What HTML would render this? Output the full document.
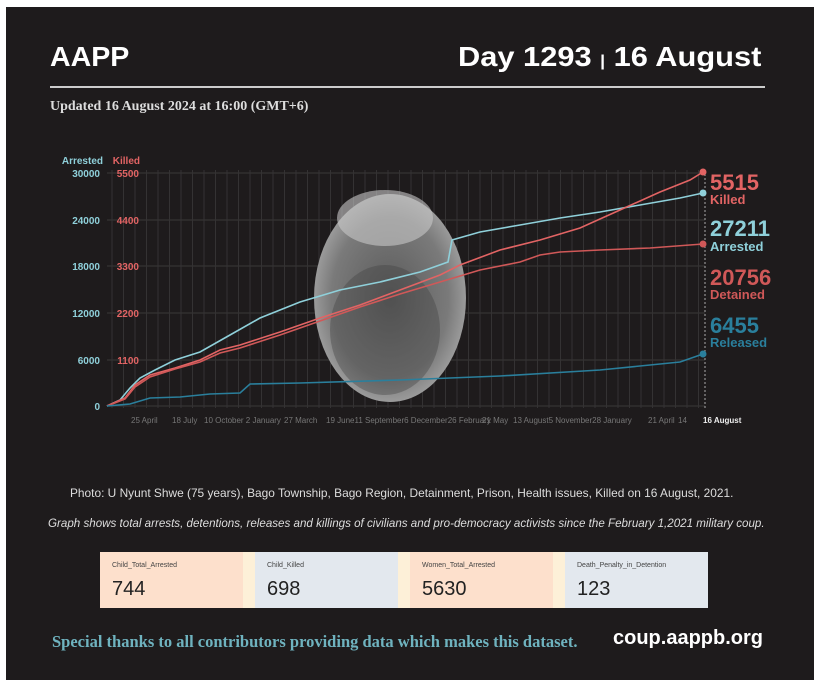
<!DOCTYPE html>
<html><head><meta charset="utf-8"><style>
*{margin:0;padding:0;box-sizing:border-box}
body{width:820px;height:687px;background:#fff;position:relative;overflow:hidden;font-family:"Liberation Sans",sans-serif}
#bg{position:absolute;left:6px;top:7px;width:808px;height:673px;background:#1e1b1c}
.t{position:absolute;white-space:nowrap}
.card{position:absolute;top:552px;height:56px}
.card .l{position:absolute;left:12px;top:10px;font-size:7px;color:#444}
.card .v{position:absolute;left:12px;top:26px;font-size:20px;color:#222}
</style></head><body>
<div id="bg"></div>
<div class="t" style="left:50px;top:41px;font-size:28px;font-weight:bold;color:#fff;transform-origin:left top;transform:scaleX(1.02)">AAPP</div>
<div class="t" style="left:458px;top:41px;font-size:28px;font-weight:bold;color:#fff;transform-origin:left top;transform:scaleX(1.1)">Day 1293 <span style="font-size:16px">|</span> 16 August</div>
<div style="position:absolute;left:50px;top:86px;width:715px;height:2px;background:#ccc"></div>
<div class="t" style="left:50px;top:99px;font-family:'Liberation Serif',serif;font-weight:bold;font-size:14px;color:#ddd">Updated 16 August 2024 at 16:00 (GMT+6)</div>
<svg style="position:absolute;left:0;top:0" width="820" height="460">
<defs><radialGradient id="g" cx="50%" cy="50%" r="55%"><stop offset="0" stop-color="#5a5a5a"/><stop offset="0.7" stop-color="#7a7a7a"/><stop offset="1" stop-color="#a8a8a8"/></radialGradient></defs>
<g stroke="#3a3839" stroke-width="1">
<line x1="107" y1="173" x2="705" y2="173"/><line x1="107" y1="220" x2="705" y2="220"/><line x1="107" y1="266" x2="705" y2="266"/><line x1="107" y1="313" x2="705" y2="313"/><line x1="107" y1="360" x2="705" y2="360"/><line x1="107" y1="406" x2="705" y2="406"/>
</g>
<g stroke="#343233" stroke-width="1" id="vg"></g>
<ellipse cx="390" cy="298" rx="76" ry="104" fill="url(#g)"/>
<ellipse cx="385" cy="218" rx="48" ry="28" fill="#c8c8c8" opacity="0.6"/>
<ellipse cx="385" cy="330" rx="55" ry="65" fill="#444" opacity="0.4"/>
<line x1="705" y1="170" x2="705" y2="408" stroke="#aaa" stroke-dasharray="2,2"/>
<g fill="none" stroke-width="1.6">
<polyline stroke="#8fd0da" points="107,406 120,400 130,388 140,378 155,370 175,360 200,352 230,335 260,318 300,302 340,290 380,282 420,272 448,262 452,240 480,232 520,225 560,218 600,212 640,205 680,198 703,193"/>
<polyline stroke="#e26464" points="107,406 125,398 135,385 150,375 175,368 200,360 220,350 240,345 280,332 320,318 360,305 400,290 440,275 460,265 500,250 540,240 580,228 620,210 660,192 690,180 703,172"/>
<polyline stroke="#d05858" points="107,406 125,399 135,387 150,377 175,369 200,362 220,353 240,348 280,335 320,321 360,307 400,294 440,282 480,270 520,262 540,255 560,252 600,250 650,248 703,244"/>
<polyline stroke="#2a7f9c" points="107,406 130,404 150,398 180,397 210,394 240,393 250,384 300,383 400,380 500,376 600,370 680,362 703,354"/>
</g>
<circle cx="703" cy="172" r="3.5" fill="#e26464"/><circle cx="703" cy="193" r="3.5" fill="#8fd0da"/><circle cx="703" cy="244" r="3.5" fill="#d05858"/><circle cx="703" cy="354" r="3.5" fill="#2a7f9c"/>
<g font-family="Liberation Sans" font-size="10" font-weight="bold" text-anchor="end">
<text x="103" y="164" fill="#8fd0da">Arrested</text><text x="140" y="164" fill="#e26464">Killed</text>
<g fill="#8fd0da"><text x="100" y="177">30000</text><text x="100" y="224">24000</text><text x="100" y="270">18000</text><text x="100" y="317">12000</text><text x="100" y="364">6000</text><text x="100" y="410">0</text></g>
<g fill="#e26464"><text x="139" y="177">5500</text><text x="139" y="224">4400</text><text x="139" y="270">3300</text><text x="139" y="317">2200</text><text x="139" y="364">1100</text></g>
</g>
<g font-family="Liberation Sans" font-size="8" fill="#777">
<text x="131" y="423">25 April</text><text x="172" y="423">18 July</text><text x="204" y="423">10 October 2 January</text><text x="284" y="423">27 March</text><text x="326" y="423">19 June11 September6 December26 February</text><text x="482" y="423">21 May</text><text x="513" y="423">13 August5 November28 January</text><text x="648" y="423">21 April</text><text x="678" y="423">14</text>
</g>
<text x="703" y="423" font-family="Liberation Sans" font-size="8" font-weight="bold" fill="#eee">16 August</text>
<g font-family="Liberation Sans" font-weight="bold">
<text x="710" y="190" font-size="22" fill="#e26464">5515</text><text x="710" y="204" font-size="13" fill="#e26464">Killed</text>
<text x="710" y="236" font-size="22" fill="#8fd0da">27211</text><text x="710" y="251" font-size="13" fill="#8fd0da">Arrested</text>
<text x="710" y="285" font-size="22" fill="#d05858">20756</text><text x="710" y="299" font-size="13" fill="#d05858">Detained</text>
<text x="710" y="333" font-size="22" fill="#2a7f9c">6455</text><text x="710" y="347" font-size="13" fill="#2a7f9c">Released</text>
</g>
<line x1="6" y1="468" x2="814" y2="468" stroke="#7fbccb" stroke-width="2"/>
</svg>
<div class="t" style="left:70px;top:486px;font-size:11.9px;color:#ddd">Photo: U Nyunt Shwe (75 years), Bago Township, Bago Region, Detainment, Prison, Health issues, Killed on 16 August, 2021.</div>
<div class="t" style="left:48px;top:517px;font-size:11.6px;font-style:italic;color:#ddd">Graph shows total arrests, detentions, releases and killings of civilians and pro-democracy activists since the February 1,2021 military coup.</div>
<div style="position:absolute;left:100px;top:552px;width:608px;height:56px;background:#fdf0d8"></div>
<div class="card" style="left:100px;width:143px;background:#fde0cc"><div class="l">Child_Total_Arrested</div><div class="v">744</div></div>
<div class="card" style="left:255px;width:143px;background:#e3e8ee"><div class="l">Child_Killed</div><div class="v">698</div></div>
<div class="card" style="left:410px;width:143px;background:#fde0cc"><div class="l">Women_Total_Arrested</div><div class="v">5630</div></div>
<div class="card" style="left:565px;width:143px;background:#e3e8ee"><div class="l">Death_Penalty_in_Detention</div><div class="v">123</div></div>
<div class="t" style="left:52px;top:632px;font-family:'Liberation Serif',serif;font-weight:bold;font-size:16.5px;color:#6fb3bf">Special thanks to all contributors providing data which makes this dataset.</div>
<div class="t" style="left:613px;top:627px;font-weight:bold;font-size:20px;color:#fff">coup.aappb.org</div>
<script>
var g=document.getElementById('vg'),s='';for(var x=112;x<705;x+=11.5)s+='<line x1="'+x+'" y1="170" x2="'+x+'" y2="408"/>';g.innerHTML=s;
</script>
</body></html>
